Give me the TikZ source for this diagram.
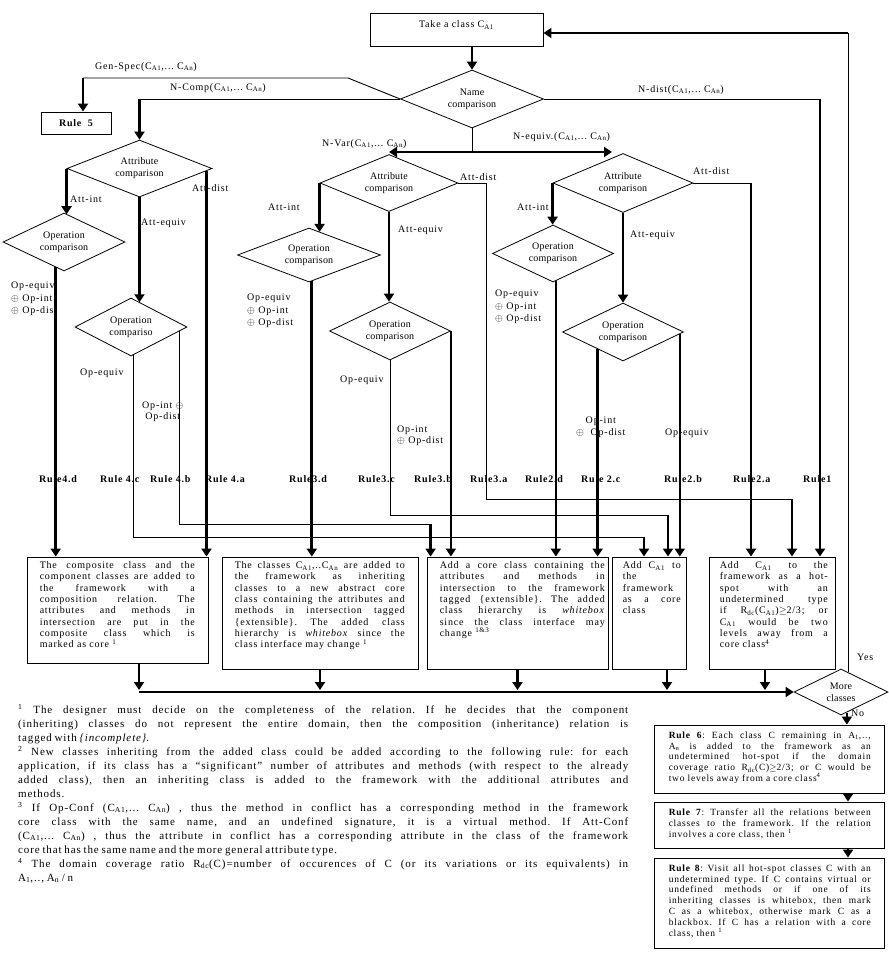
\documentclass[tikz,border=0pt]{standalone}
\usepackage{fontspec}
\setmainfont{Liberation Serif}[LetterSpace=8]
\newfontfamily\diafont{Liberation Serif}[LetterSpace=2]
\usetikzlibrary{arrows.meta,shapes.geometric}
\newcommand\CA[1]{C\textsubscript{A#1}}
\tolerance=10000 \hbadness=10000 \hfuzz=3pt
\frenchspacing
\begin{document}
\begin{tikzpicture}[x=1pt,y=-1pt,
  thk/.style={line width=2.6pt},
  thn/.style={line width=0.9pt},
  arr/.style={-{Triangle[length=8pt,width=10pt]}},
  arrb/.style={{Triangle[length=8pt,width=10pt]}-{Triangle[length=8pt,width=10pt]}},
  dia/.style={draw, diamond, aspect=2.2, line width=0.8pt, inner sep=0pt, align=center, font=\diafont\fontsize{10}{12}\selectfont},
  bx/.style={draw, rectangle, line width=0.9pt, inner sep=0pt},
  btxt/.style={anchor=north west, inner sep=0pt, align=justify, font=\frenchspacing\fontsize{10}{11.3}\selectfont},
  rtxt/.style={anchor=north west, inner sep=0pt, align=justify, font=\frenchspacing\fontsize{9.5}{10.8}\selectfont},
  lbl/.style={inner sep=0pt, anchor=west, font=\fontsize{10}{12}\selectfont},
  mlbl/.style={inner sep=0pt, anchor=north west, font=\fontsize{10}{12.5}\selectfont},
  rl/.style={inner sep=0pt, anchor=west, font=\fontsize{10}{12}\selectfont\bfseries},
]
\useasboundingbox (0,0) rectangle (889,959);

% ---------- boxes and decisions
\node[bx, minimum width=173pt, minimum height=33pt, text depth=10pt, font=\fontsize{10}{12}\selectfont] (take) at (456.5,29.5) {Take a class \CA{1}};
\node[dia, minimum width=143pt, minimum height=58pt] (name) at (472,99) {Name\\comparison};
\node[bx, minimum width=70pt, minimum height=22pt, font=\fontsize{10}{12}\selectfont\bfseries] (rule5) at (76,123) {Rule\ \ 5};
\node[dia, minimum width=145pt, minimum height=57pt] (attL) at (139.5,168.5) {Attribute\\comparison};
\node[dia, minimum width=122pt, minimum height=58pt] (opL1) at (64,242) {Operation\\comparison};
\node[dia, minimum width=112pt, minimum height=58pt] (opL2) at (131,327) {Operation\\compariso};
\node[dia, minimum width=138pt, minimum height=57pt] (attM) at (389,183) {Attribute\\comparison};
\node[dia, minimum width=143pt, minimum height=54pt] (opM1) at (309,255) {Operation\\comparison};
\node[dia, minimum width=121pt, minimum height=58pt] (opM2) at (390,331) {Operation\\comparison};
\node[dia, minimum width=140pt, minimum height=59pt] (attR) at (623,183) {Attribute\\comparison};
\node[dia, minimum width=121pt, minimum height=57pt] (opR1) at (553,253.5) {Operation\\comparison};
\node[dia, minimum width=121pt, minimum height=58pt] (opR2) at (623,332) {Operation\\comparison};
\node[dia, minimum width=94pt, minimum height=46pt] (more) at (841,692) {More\\classes};

\node[bx, minimum width=181pt, minimum height=106pt] (b1) at (117.5,610) {};
\node[bx, minimum width=196pt, minimum height=112pt] (b2) at (320,613) {};
\node[bx, minimum width=181pt, minimum height=112pt] (b3) at (517.5,613) {};
\node[bx, minimum width=74pt, minimum height=112pt] (b4) at (649,613) {};
\node[bx, minimum width=126pt, minimum height=112pt] (b5) at (772,613) {};
\node[bx, minimum width=230pt, minimum height=68pt] (r6) at (769,759) {};
\node[bx, minimum width=230pt, minimum height=46pt] (r7) at (769,825) {};
\node[bx, minimum width=230pt, minimum height=90pt] (r8) at (769,903) {};

\node[btxt, text width=155pt] (b1t) at ([xshift=13pt,yshift=-5pt]b1.north west) {The composite class and the\linebreak component classes are added to\linebreak the framework with a\linebreak composition relation. The\linebreak attributes and methods in\linebreak intersection are put in the\linebreak composite class which is\linebreak marked as core \textsuperscript{1}};
\node[btxt, text width=170pt] (b2t) at ([xshift=13pt,yshift=-5pt]b2.north west) {The classes \CA{1},..\CA{n} are added to\linebreak the framework as inheriting\linebreak classes to a new abstract core\linebreak class containing the attributes and\linebreak methods in intersection tagged\linebreak \{extensible\}. The added class\linebreak hierarchy is \textit{whitebox} since the\linebreak class interface may change \textsuperscript{1}};
\node[btxt, text width=165pt] (b3t) at ([xshift=13pt,yshift=-5pt]b3.north west) {Add a core class containing the\linebreak attributes and methods in\linebreak intersection to the framework\linebreak tagged \{extensible\}. The added\linebreak class hierarchy is \textit{whitebox}\linebreak since the class interface may\linebreak change \textsuperscript{1\&3}};
\node[btxt, text width=58pt] (b4t) at ([xshift=11pt,yshift=-5pt]b4.north west) {Add \CA{1} to\linebreak the\linebreak framework\linebreak as a core\linebreak class};
\node[btxt, text width=108pt] (b5t) at ([xshift=11pt,yshift=-5pt]b5.north west) {Add \CA{1} to the\linebreak framework as a hot-\linebreak spot with an\linebreak undetermined type\linebreak if R\textsubscript{dc}(\CA{1})$\geq$2/3; or\linebreak \CA{1} would be two\linebreak levels away from a\linebreak core class\textsuperscript{4}};
\node[rtxt, text width=202pt] (r6t) at ([xshift=15pt,yshift=-7pt]r6.north west) {\textbf{Rule 6}: Each class C remaining in A\textsubscript{1},..,\linebreak A\textsubscript{n} is added to the framework as an\linebreak undetermined hot-spot if the domain\linebreak coverage ratio R\textsubscript{dc}(C)$\geq$2/3; or C would be\linebreak two levels away from a core class\textsuperscript{4}};
\node[rtxt, text width=202pt] (r7t) at ([xshift=15pt,yshift=-7pt]r7.north west) {\textbf{Rule 7}: Transfer all the relations between\linebreak classes to the framework. If the relation\linebreak involves a core class, then \textsuperscript{1}};
\node[rtxt, text width=202pt] (r8t) at ([xshift=15pt,yshift=-7pt]r8.north west) {\textbf{Rule 8}: Visit all hot-spot classes C with an\linebreak undetermined type. If C contains virtual or\linebreak undefined methods or if one of its\linebreak inheriting classes is whitebox, then mark\linebreak C as a whitebox, otherwise mark C as a\linebreak blackbox. If C has a relation with a core\linebreak class, then \textsuperscript{1}};

% footnotes
\node[anchor=north west, inner sep=0pt, align=justify, text width=610pt, font=\frenchspacing\fontsize{11}{14}\selectfont] (fn) at (18,704) {\spaceskip=0.25em plus 1.5em minus 0.12em\relax
\textsuperscript{1} The designer must decide on the completeness of the relation. If he decides that the component\linebreak (inheriting) classes do not represent the entire domain, then the composition (inheritance) relation is\linebreak tagged with \textit{\{incomplete\}}.\par
\textsuperscript{2} New classes inheriting from the added class could be added according to the following rule: for each\linebreak application, if its class has a “significant” number of attributes and methods (with respect to the already\linebreak added class), then an inheriting class is added to the framework with the additional attributes and\linebreak methods.\par
\textsuperscript{3} If Op-Conf (\CA{1},... \CA{n}) , thus the method in conflict has a corresponding method in the framework\linebreak core class with the same name, and an undefined signature, it is a virtual method. If Att-Conf\linebreak (\CA{1},... \CA{n}) , thus the attribute in conflict has a corresponding attribute in the class of the framework\linebreak core that has the same name and the more general attribute type.\par
\textsuperscript{4} The domain coverage ratio R\textsubscript{dc}(C)=number of occurences of C (or its variations or its equivalents) in\linebreak A\textsubscript{1},.., A\textsubscript{n} / n};

% ---------- labels
\node[lbl] (lgs) at (95,67) {Gen-Spec(\CA{1},... \CA{n})};
\node[lbl] (lnc) at (170,88) {N-Comp(\CA{1},... \CA{n})};
\node[lbl] (lnd) at (638,90) {N-dist(\CA{1},... \CA{n})};
\node[lbl] (lnv) at (322,144) {N-Var(\CA{1},... \CA{n})};
\node[lbl] (lne) at (513,137) {N-equiv.(\CA{1},... \CA{n})};
\node[lbl] (a1) at (70,199) {Att-int};
\node[lbl] (a2) at (141,223) {Att-equiv};
\node[lbl] (a3) at (192,188) {Att-dist};
\node[lbl] (a4) at (268,207) {Att-int};
\node[lbl] (a5) at (398,230) {Att-equiv};
\node[lbl] (a6) at (460,177) {Att-dist};
\node[lbl] (a7) at (517,207) {Att-int};
\node[lbl] (a8) at (630,235) {Att-equiv};
\node[lbl] (a9) at (693,171) {Att-dist};
\node[mlbl, align=left] (o1) at (11,282) {Op-equiv\\ $\oplus$ Op-int\\ $\oplus$ Op-dist};
\node[mlbl, align=left] (o2) at (247,294) {Op-equiv\\ $\oplus$ Op-int\\ $\oplus$ Op-dist};
\node[mlbl, align=left] (o3) at (495,290) {Op-equiv\\ $\oplus$ Op-int\\ $\oplus$ Op-dist};
\node[lbl] (o4) at (80,373) {Op-equiv};
\node[lbl] (o5) at (340,380) {Op-equiv};
\node[lbl] (o6) at (665,433) {Op-equiv};
\node[mlbl, align=center, font=\fontsize{10}{10.7}\selectfont] (o7) at (142,402) {Op-int $\oplus$\\Op-dist};
\node[mlbl, align=left, font=\fontsize{10}{11}\selectfont] (o8) at (397,426) {Op-int\\$\oplus$ Op-dist};
\node[mlbl, align=center, font=\fontsize{10}{12}\selectfont] (o9) at (576,417) {Op-int\\$\oplus$\ \ Op-dist};
\node[lbl] (yes) at (857,657) {Yes};
\node[lbl] (no) at (851,713) {No};
\node[rl] (r4d) at (39,479) {Rule4.d};
\node[rl] (r4c) at (100,479) {Rule 4.c};
\node[rl] (r4b) at (150,479) {Rule 4.b};
\node[rl] (r4a) at (205,479) {Rule 4.a};
\node[rl] (r3d) at (289,479) {Rule3.d};
\node[rl] (r3c) at (358,479) {Rule3.c};
\node[rl] (r3b) at (414,479) {Rule3.b};
\node[rl] (r3a) at (470,479) {Rule3.a};
\node[rl] (r2d) at (525,479) {Rule2.d};
\node[rl] (r2c) at (581,479) {Rule 2.c};
\node[rl] (r2b) at (664,479) {Rule2.b};
\node[rl] (r2a) at (733,479) {Rule2.a};
\node[rl] (r1) at (803,479) {Rule1};

% ---------- helper coordinates on box edges
\coordinate (b3a) at ([xshift=4pt]b3.north west);
\coordinate (b4a) at ([xshift=-5pt]b4.north);
\coordinate (b4b) at ([xshift=19pt]b4.north);
\coordinate (b5a) at ([xshift=-21pt]b5.north);
\coordinate (b5b) at ([xshift=20pt]b5.north);
\coordinate (b5c) at ([xshift=48pt]b5.north);
\coordinate (b1s) at ([xshift=21.5pt]b1.south);
\coordinate (b4s) at ([xshift=18pt]b4.south);
\coordinate (b5s) at ([xshift=-7pt]b5.south);
\coordinate (r6a) at ([xshift=79pt]r6.south);
\coordinate (r7a) at ([xshift=79pt]r7.south);
\coordinate (nr) at ([xshift=-11pt]attR.north);

% ---------- connectors
\draw[thk,arr] (take.south -| name.north) -- (name.north);
\coordinate (gs1) at (348,78);
\coordinate (gs2) at (83,78);
\draw[thn] (name.west) -- (gs1) -- (gs2);
\draw[thk,arr] (gs2) -- (gs2 |- rule5.north);
\coordinate (nc) at (name.west -| attL.north);
\draw[thn] (name.west) -- (nc);
\draw[thk,arr] (nc) -- (attL.north);
\coordinate (nd) at (name.east -| b5c);
\draw[thn] (name.east) -- (nd);
\draw[thk,arr] (nd) -- (b5c);
\coordinate (jn) at (name.south |- 0,152);
\draw[thn] (name.south) -- (jn);
\draw[thk,arrb] (attM.north |- jn) -- (nr |- jn);

% left branch
\draw[thk,arr] (attL.west) -- (attL.west |- opL1.83.8);
\draw[thk,arr] (opL1.252.4) -- (opL1.252.4 |- b1.north);
\draw[thk,arr] (attL.south) -- (attL.south |- opL2.70.9);
\draw[thk,arr] (attL.358.7) -- (attL.358.7 |- b1.north);
\draw[thn] (opL2.276.3) |- (b4a |- 0,537);
\draw[thk,arr] (b4a |- 0,537) -- (b4a);
\draw[thn] (opL2.355.8) |- (b3a |- 0,524);
\draw[thk,arr] (b3a |- 0,524) -- (b3a);

% middle branch
\draw[thk,arr] (attM.west) -- (attM.west |- opM1.64.3);
\draw[thk,arr] (opM1.276.6) -- (opM1.276.6 |- b2.north);
\draw[thk,arr] (attM.south) -- (attM.south |- opM2.north);
\draw[thn] (opM2.south) |- (b4b |- 0,515);
\draw[thk,arr] (b4b |- 0,515) -- (b4b);
\draw[thk,arr] (opM2.east) -- (opM2.east |- b3.north);
\coordinate (dm) at (486,183);
\draw[thn] (attM.east) -- (dm) |- (b5b |- 0,499);
\draw[thk,arr] (b5b |- 0,499) -- (b5b);

% right branch
\draw[thk,arr] (attR.west) -- (attR.west |- opR1.north);
\draw[thk,arr] (opR1.276.3) -- (opR1.276.3 |- b3.north);
\draw[thk,arr] (attR.south) -- (opR2.north);
\draw[thk,arr] (opR2.214.2) -- (opR2.214.2 |- b3.north);
\draw[thk,arr] (opR2.358.8) -- (opR2.358.8 |- b4.north);
\draw[thn] (attR.east) -- (attR.east -| b5a);
\draw[thk,arr] (attR.east -| b5a) -- (b5a);

% bottom
\draw[thk,arr] (b1s) -- (b1s |- 0,690);
\draw[thk,arr] (b2.south) -- (b2.south |- 0,690);
\draw[thk,arr] (b3.south) -- (b3.south |- 0,690);
\draw[thk,arr] (b4s) -- (b4s |- 0,690);
\draw[thk,arr] (b5s) -- (b5s |- 0,690);
\draw[thk,arr] (b1s |- more.west) -- (more.west);
\coordinate (lp) at (more.70.3 |- 0,33);
\draw[thn] (more.70.3) -- (lp);
\draw[thk,arr] (lp) -- (take.east |- lp);
\draw[thk,arr] (more.286.65) -- (more.286.65 |- r6.north);
\draw[thk,arr] (r6a) -- (r6a |- r7.north);
\draw[thk,arr] (r7a) -- (r7a |- r8.north);
\end{tikzpicture}
\end{document}
